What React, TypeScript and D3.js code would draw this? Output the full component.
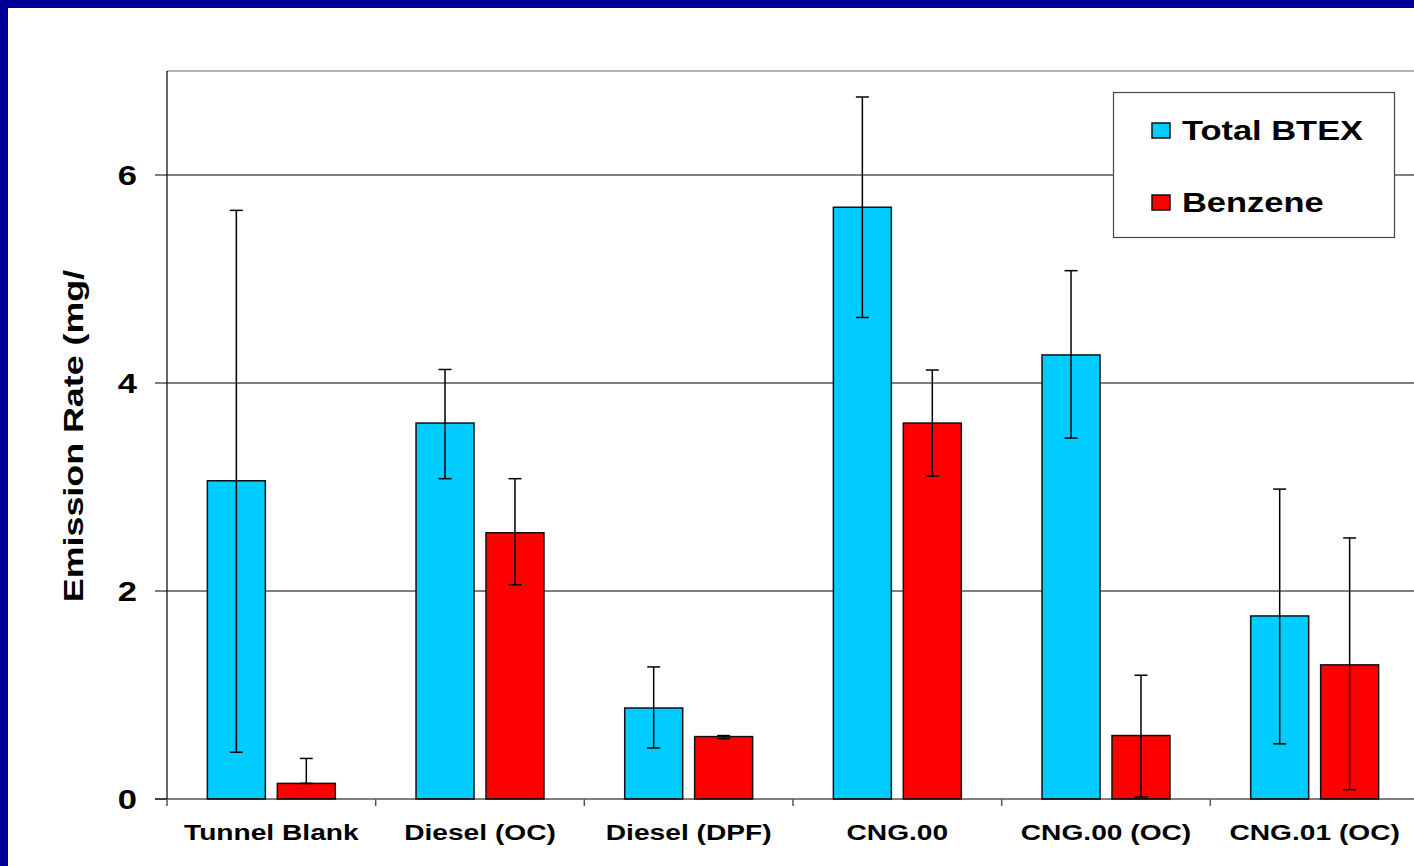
import React, { useEffect, useRef } from 'react'
import * as d3 from 'd3'

const categories = ['Tunnel Blank', 'Diesel (OC)', 'Diesel (DPF)', 'CNG.00', 'CNG.00 (OC)', 'CNG.01 (OC)']
const seriesNames = ['Total BTEX', 'Benzene']
const seriesColors = ['#00ccff', '#ff0000']
const btex = [3.06, 3.615, 0.875, 5.69, 4.27, 1.76]
const btexLow = [0.45, 3.08, 0.49, 4.63, 3.47, 0.53]
const btexHigh = [5.66, 4.13, 1.27, 6.75, 5.08, 2.98]
const benzene = [0.15, 2.56, 0.6, 3.615, 0.61, 1.29]
const benzeneLow = [0.15, 2.06, 0.58, 3.105, 0.02, 0.09]
const benzeneHigh = [0.39, 3.08, 0.61, 4.125, 1.19, 2.51]
const yTicks = [0, 2, 4, 6]

// the slide's text is drawn wide, so stretch glyphs horizontally
const stretch = 1.28
const font = 'Liberation Sans, Arial, sans-serif'

export default function App() {
  const svgRef = useRef<SVGSVGElement>(null)
  const width = 1414
  const height = 866
  const margin = { top: 71, right: -5, bottom: 67, left: 167 }

  useEffect(() => {
    const svg = d3.select(svgRef.current)
    svg.selectAll('*').remove()

    // slide frame
    svg.append('rect').attr('width', width).attr('height', height).attr('fill', '#000099')
    svg.append('rect').attr('x', 8).attr('y', 8).attr('width', width).attr('height', height).attr('fill', '#fff')

    const x = d3.scaleBand()
      .domain(categories)
      .range([margin.left, width - margin.right])
    const inner = d3.scaleBand()
      .domain(seriesNames)
      .range([0, x.bandwidth()])
      .paddingInner(0.171)
      .paddingOuter(0.577)
    const y = d3.scaleLinear()
      .domain([0, 7])
      .range([height - margin.bottom, margin.top])

    // plot frame
    svg.append('line')
      .attr('x1', margin.left).attr('x2', width)
      .attr('y1', y(7)).attr('y2', y(7))
      .attr('stroke', '#999').attr('stroke-width', 1.5)

    // gridlines
    svg.append('g')
      .selectAll('line')
      .data(yTicks.filter(d => d > 0))
      .enter()
      .append('line')
      .attr('x1', margin.left).attr('x2', width)
      .attr('y1', d => y(d)).attr('y2', d => y(d))
      .attr('stroke', '#000').attr('stroke-width', 1)

    // y axis
    svg.append('line')
      .attr('x1', margin.left).attr('x2', margin.left)
      .attr('y1', y(7)).attr('y2', y(0))
      .attr('stroke', '#000').attr('stroke-width', 1.2)
    const yg = svg.append('g')
    yg.selectAll('line')
      .data(yTicks)
      .enter()
      .append('line')
      .attr('x1', margin.left - 12).attr('x2', margin.left)
      .attr('y1', d => y(d)).attr('y2', d => y(d))
      .attr('stroke', '#000')
    yg.selectAll('text')
      .data(yTicks)
      .enter()
      .append('text')
      .attr('transform', d => `translate(137, ${y(d)}) scale(${stretch}, 1)`)
      .attr('dy', '0.36em')
      .attr('text-anchor', 'end')
      .attr('font-family', font)
      .attr('font-weight', 'bold')
      .attr('font-size', 27)
      .text(d => d)

    svg.append('text')
      .attr('transform', `translate(83, 436) rotate(-90) scale(${stretch}, 1)`)
      .attr('text-anchor', 'middle')
      .attr('font-family', font)
      .attr('font-weight', 'bold')
      .attr('font-size', 28)
      .text('Emission Rate (mg/')

    // bars
    const series = [
      { name: seriesNames[0], values: btex, low: btexLow, high: btexHigh, color: seriesColors[0] },
      { name: seriesNames[1], values: benzene, low: benzeneLow, high: benzeneHigh, color: seriesColors[1] },
    ]
    series.forEach(s => {
      const g = svg.append('g')
      g.selectAll('rect')
        .data(categories)
        .enter()
        .append('rect')
        .attr('x', d => x(d) + inner(s.name))
        .attr('y', (d, i) => y(s.values[i]))
        .attr('width', inner.bandwidth())
        .attr('height', (d, i) => y(0) - y(s.values[i]))
        .attr('fill', s.color)
        .attr('stroke', '#111')
        .attr('stroke-width', 1.5)
    })

    // error bars
    series.forEach(s => {
      const g = svg.append('g').attr('stroke', '#000').attr('stroke-width', 1.5)
      categories.forEach((c, i) => {
        const cx = x(c) + inner(s.name) + inner.bandwidth() / 2
        g.append('line').attr('x1', cx).attr('x2', cx).attr('y1', y(s.low[i])).attr('y2', y(s.high[i]))
        g.append('line').attr('x1', cx - 6.5).attr('x2', cx + 6.5).attr('y1', y(s.low[i])).attr('y2', y(s.low[i]))
        g.append('line').attr('x1', cx - 6.5).attr('x2', cx + 6.5).attr('y1', y(s.high[i])).attr('y2', y(s.high[i]))
      })
    })

    // x axis
    svg.append('line')
      .attr('x1', margin.left - 12).attr('x2', width)
      .attr('y1', y(0)).attr('y2', y(0))
      .attr('stroke', '#000').attr('stroke-width', 1.2)
    svg.append('g')
      .selectAll('line')
      .data(categories)
      .enter()
      .append('line')
      .attr('x1', d => x(d)).attr('x2', d => x(d))
      .attr('y1', y(0)).attr('y2', y(0) + 7)
      .attr('stroke', '#555').attr('stroke-width', 1.5)
    svg.append('g')
      .selectAll('text')
      .data(categories)
      .enter()
      .append('text')
      .attr('transform', d => `translate(${x(d) + x.bandwidth() / 2}, 840) scale(${stretch}, 1)`)
      .attr('text-anchor', 'middle')
      .attr('font-family', font)
      .attr('font-weight', 'bold')
      .attr('font-size', 22)
      .text(d => d)

    // legend
    const lg = svg.append('g')
    lg.append('rect')
      .attr('x', 1113.5).attr('y', 92.5).attr('width', 281).attr('height', 145)
      .attr('fill', '#fff').attr('stroke', '#444').attr('stroke-width', 1.2)
    series.forEach((s, i) => {
      const ly = 130 + i * 72
      lg.append('rect')
        .attr('x', 1152).attr('y', ly - 7).attr('width', 18).attr('height', 15)
        .attr('fill', s.color).attr('stroke', '#111').attr('stroke-width', 1.5)
      lg.append('text')
        .attr('transform', `translate(1182, ${ly}) scale(1.23, 1)`)
        .attr('dy', '0.36em')
        .attr('font-family', font)
        .attr('font-weight', 'bold')
        .attr('font-size', 28)
        .text(s.name)
    })
  }, [])

  return (
    <svg ref={svgRef} width={width} height={height}
      style={{ position: 'fixed', left: 0, top: 0, display: 'block' }} />
  )
}
